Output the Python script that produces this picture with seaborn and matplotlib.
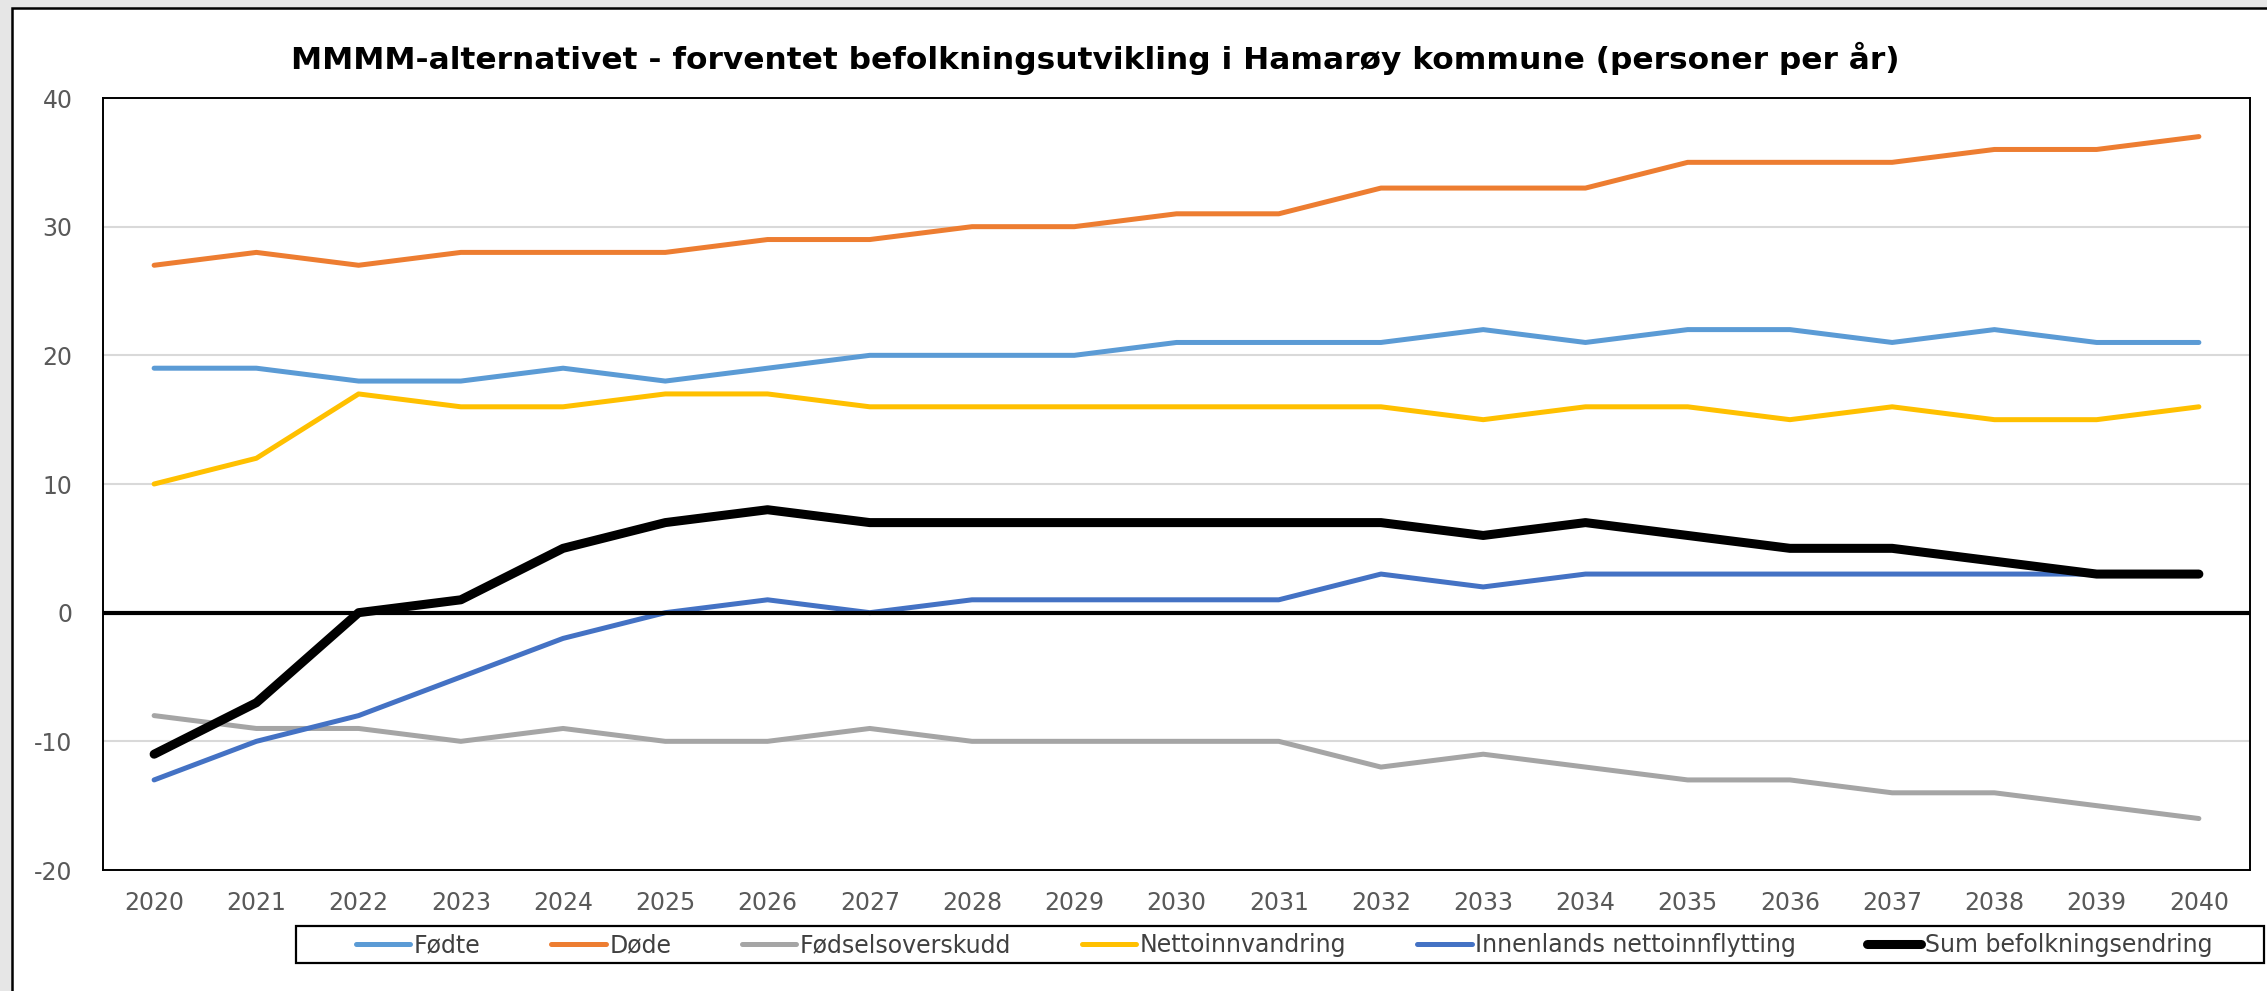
import matplotlib
matplotlib.use("Agg")
import matplotlib.pyplot as plt
from matplotlib.patches import Rectangle
import seaborn as sns
import pandas as pd

years = list(range(2020, 2041))

fodte = [19, 19, 18, 18, 19, 18, 19, 20, 20, 20, 21, 21, 21, 22, 21, 22, 22, 21, 22, 21, 21]
dode = [27, 28, 27, 28, 28, 28, 29, 29, 30, 30, 31, 31, 33, 33, 33, 35, 35, 35, 36, 36, 37]
fodselsoverskudd = [-8, -9, -9, -10, -9, -10, -10, -9, -10, -10, -10, -10, -12, -11, -12, -13, -13, -14, -14, -15, -16]
nettoinnvandring = [10, 12, 17, 16, 16, 17, 17, 16, 16, 16, 16, 16, 16, 15, 16, 16, 15, 16, 15, 15, 16]
innenlands = [-13, -10, -8, -5, -2, 0, 1, 0, 1, 1, 1, 1, 3, 2, 3, 3, 3, 3, 3, 3, 3]
sum_endring = [-11, -7, 0, 1, 5, 7, 8, 7, 7, 7, 7, 7, 7, 6, 7, 6, 5, 5, 4, 3, 3]

series = [
    ("Fødte", fodte, "#5B9BD5", 3.6),
    ("Døde", dode, "#ED7D31", 3.6),
    ("Fødselsoverskudd", fodselsoverskudd, "#A5A5A5", 3.6),
    ("Nettoinnvandring", nettoinnvandring, "#FFC000", 3.6),
    ("Innenlands nettoinnflytting", innenlands, "#4472C4", 3.6),
    ("Sum befolkningsendring", sum_endring, "#000000", 6.5),
]

sns.set_style("white")
plt.rcParams["font.family"] = ["DejaVu Sans"]
plt.rcParams["axes.unicode_minus"] = False

W, H = 2267, 991
fig = plt.figure(figsize=(W / 100, H / 100), dpi=100)
fig.patch.set_facecolor("#E6E6E6")
# white chart area with black frame (right and bottom edges run off the picture)
fig.patches.append(Rectangle((12 / W, -0.05), 1.05, 1.05 - 8 / H,
                             transform=fig.transFigure, facecolor="white",
                             edgecolor="black", linewidth=1.8, zorder=-10))
# legend box
fig.patches.append(Rectangle((296 / W, 1 - 963 / H), (2264 - 296) / W, 37 / H,
                             transform=fig.transFigure, facecolor="white",
                             edgecolor="black", linewidth=1.6, zorder=-5))

ax = fig.add_axes([103 / W, 1 - 870 / H, (2250 - 103) / W, (870 - 98) / H])
ax.set_facecolor("white")

idx = list(range(len(years)))
for name, vals, color, lw in series:
    df = pd.DataFrame({"x": idx, "y": vals})
    z = 4 if name.startswith("Sum") else 2
    sns.lineplot(data=df, x="x", y="y", color=color, linewidth=lw, label=name,
                 ax=ax, zorder=z, solid_joinstyle="round", solid_capstyle="round")

ax.axhline(0, color="black", linewidth=3.0, zorder=3)

ax.set_xlim(-0.5, 20.5)
ax.set_ylim(-20, 40)
ax.set_yticks([-20, -10, 0, 10, 20, 30, 40])
ax.set_xticks(idx)
ax.set_xticklabels([str(y) for y in years])
ax.set_xlabel("")
ax.set_ylabel("")
ax.grid(axis="y", color="#D9D9D9", linewidth=1.5, zorder=1)
ax.set_axisbelow(True)
for s in ax.spines.values():
    s.set_color("black")
    s.set_linewidth(1.4)
ax.tick_params(axis="both", length=0, labelsize=17, colors="#595959")
ax.tick_params(axis="y", pad=22)
ax.tick_params(axis="x", pad=15)

ax.get_legend().remove()
handles, labels = ax.get_legend_handles_labels()
leg = fig.legend(handles, labels, ncol=6, loc="center",
                 bbox_to_anchor=(1284 / W, 1 - 945 / H),
                 frameon=False, fontsize=17,
                 handlelength=2.3, handletextpad=0.15, columnspacing=3.0,
                 borderpad=0.2, borderaxespad=0)
for t in leg.get_texts():
    t.set_color("#404040")

fig.text(1095 / W, 1 - 58 / H,
         "MMMM-alternativet - forventet befolkningsutvikling i Hamarøy kommune (personer per år)",
         ha="center", va="center", fontsize=22.5, fontweight="bold", color="black")

fig.savefig("out.png", dpi=100, facecolor=fig.get_facecolor())
